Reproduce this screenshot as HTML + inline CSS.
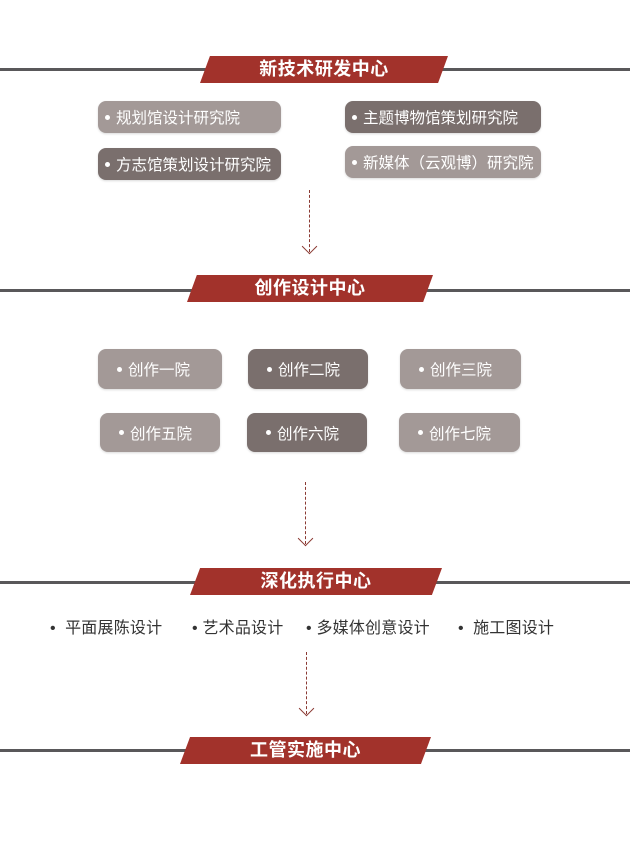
<!DOCTYPE html>
<html><head><meta charset="utf-8"><style>
body{margin:0;width:630px;height:863px;background:#fff;position:relative;overflow:hidden;font-family:"Liberation Sans","Noto Sans CJK SC",sans-serif}
.ln{position:absolute;left:0;width:630px;height:3px;background:#59585a}
.bn{position:absolute;height:27px;background:#a2322b;color:#fff;font-weight:bold;font-size:18px;letter-spacing:0.5px;line-height:27px;text-align:center;clip-path:polygon(4% 0,100% 0,96% 100%,0 100%)}
.bx{position:absolute;border-radius:8px;color:#fff;font-size:15.5px;display:flex;align-items:center;box-shadow:0 1px 2px rgba(0,0,0,.15);white-space:nowrap}
.l{background:#a39997}.d{background:#7a6f6d}
.bx:before{content:"";width:5px;height:5px;border-radius:50%;background:#fff;margin:0 6px 0 7px;flex:none}
.c{justify-content:flex-start;padding-left:12px}
.ar{position:absolute;width:0;border-left:1px dashed #8b3a33}
.ah{position:absolute;width:10px;height:10px;border-right:1px solid #8b3a33;border-bottom:1px solid #8b3a33;transform:rotate(45deg)}
.t{position:absolute;top:614px;font-size:16px;letter-spacing:0.2px;color:#333}
</style></head><body>
<div class="ln" style="top:68px"></div>
<div class="bn" style="left:200px;top:56px;width:248px">新技术研发中心</div>
<div class="bx l" style="left:98px;top:101px;width:183px;height:32px">规划馆设计研究院</div>
<div class="bx d" style="left:345px;top:101px;width:196px;height:32px">主题博物馆策划研究院</div>
<div class="bx d" style="left:98px;top:148px;width:183px;height:32px">方志馆策划设计研究院</div>
<div class="bx l" style="left:345px;top:146px;width:196px;height:32px">新媒体（云观博）研究院</div>
<div class="ar" style="left:309px;top:190px;height:62px"></div>
<div class="ah" style="left:304px;top:241px"></div>

<div class="ln" style="top:289px"></div>
<div class="bn" style="left:187px;top:275px;width:246px">创作设计中心</div>
<div class="bx l c" style="left:98px;top:349px;width:112px;height:40px">创作一院</div>
<div class="bx d c" style="left:248px;top:349px;width:108px;height:40px">创作二院</div>
<div class="bx l c" style="left:400px;top:349px;width:109px;height:40px">创作三院</div>
<div class="bx l c" style="left:100px;top:413px;width:108px;height:39px">创作五院</div>
<div class="bx d c" style="left:247px;top:413px;width:108px;height:39px">创作六院</div>
<div class="bx l c" style="left:399px;top:413px;width:109px;height:39px">创作七院</div>
<div class="ar" style="left:305px;top:482px;height:62px"></div>
<div class="ah" style="left:300px;top:533px"></div>

<div class="ln" style="top:581px"></div>
<div class="bn" style="left:190px;top:568px;width:252px">深化执行中心</div>
<div class="t" style="left:50px">•&nbsp; 平面展陈设计</div>
<div class="t" style="left:192px">•&nbsp;艺术品设计</div>
<div class="t" style="left:306px">•&nbsp;多媒体创意设计</div>
<div class="t" style="left:458px">•&nbsp; 施工图设计</div>
<div class="ar" style="left:306px;top:652px;height:62px"></div>
<div class="ah" style="left:301px;top:703px"></div>

<div class="ln" style="top:749px"></div>
<div class="bn" style="left:180px;top:737px;width:251px">工管实施中心</div>
</body></html>
